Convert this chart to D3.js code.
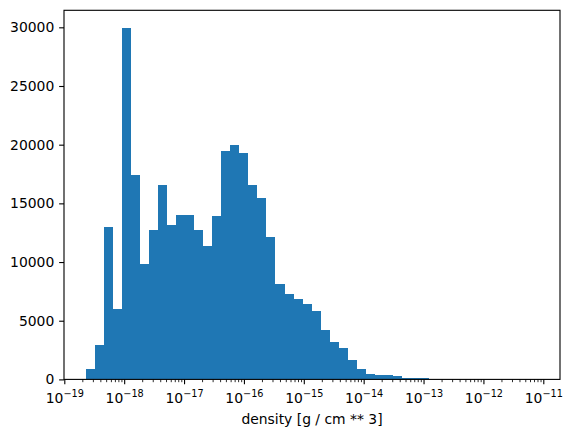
<!DOCTYPE html>
<html>
<head>
<meta charset="utf-8">
<script src="https://cdnjs.cloudflare.com/ajax/libs/d3/7.8.5/d3.min.js"></script>
<style>
  body { margin: 0; background: #fff; }
  text { font-family: "DejaVu Sans", sans-serif; }
</style>
</head>
<body>
<div id="chart"></div>
<script>
// log10 of the first and last bin edge (50 log-spaced bins)
var binLogMin = -18.6376,
    binLogMax = -11.1027;

// counts per bin
var counts = [850, 2900, 12970, 6000, 29950, 17400, 9800, 12700, 16600, 13150,
              14000, 14000, 12700, 11400, 13900, 19500, 20000, 19250, 16600, 15450,
              12100, 8100, 7300, 6850, 6400, 5800, 4200, 3150, 2700, 1650,
              850, 430, 340, 340, 260, 90, 85, 80, 75, 70,
              65, 60, 50, 8, 5, 3, 2, 1, 1, 1];

// axis limits (log10) and ticks
var xLimLog = [-19.005, -10.721];
var xTickExps = [-19, -18, -17, -16, -15, -14, -13, -12, -11];
var yTicks = [0, 5000, 10000, 15000, 20000, 25000, 30000];
var yMax = 31450;
var xLabel = "density [g / cm ** 3]";

(function(){
  var width = 572,
    height = 437;

  var left = 64, right = 560, top = 10.3, bottom = 379.4;
  var pt = 100 / 72;   // matplotlib points -> px

  var svg = d3.select("#chart")
    .append("svg")
    .attr("width", width)
    .attr("height", height);

  var x = d3.scaleLog()
    .domain([Math.pow(10, xLimLog[0]), Math.pow(10, xLimLog[1])])
    .range([left, right]);

  var y = d3.scaleLinear()
    .domain([0, yMax])
    .range([bottom, top]);

  // bin edges like np.logspace(binLogMin, binLogMax, 51)
  var n = counts.length;
  var edges = d3.range(n + 1).map(function(i){
    return Math.pow(10, binLogMin + i * (binLogMax - binLogMin) / n);
  });
  var bins = counts.map(function(c, i){
    return {x0: edges[i], x1: edges[i + 1], count: c};
  });

  // crisp edges so neighbouring bars meet without seams
  svg.append("g")
    .attr("shape-rendering", "crispEdges")
    .selectAll("rect")
    .data(bins)
    .enter().append("rect")
    .attr("x", function(d){ return x(d.x0); })
    .attr("width", function(d){ return x(d.x1) - x(d.x0); })
    .attr("y", function(d){ return y(d.count); })
    .attr("height", function(d){ return y(0) - y(d.count); })
    .attr("fill", "#1f77b4");

  // minor ticks 2..9 per decade
  var minors = [];
  for (var e = -20; e <= -10; e++) {
    for (var k = 2; k <= 9; k++) {
      var v = k * Math.pow(10, e);
      if (v >= x.domain()[0] && v <= x.domain()[1]) minors.push(v);
    }
  }

  var minorAxis = svg.append("g")
    .attr("transform", "translate(0," + bottom + ")")
    .call(d3.axisBottom(x).tickValues(minors).tickSize(2 * pt).tickFormat(""));
  minorAxis.select(".domain").remove();
  minorAxis.selectAll("line").attr("stroke", "#000").attr("stroke-width", 0.6 * pt);

  var xAxis = svg.append("g")
    .attr("transform", "translate(0," + bottom + ")")
    .call(d3.axisBottom(x)
      .tickValues(xTickExps.map(function(e){ return Math.pow(10, e); }))
      .tickSize(3.5 * pt)
      .tickFormat(""));
  xAxis.select(".domain").remove();
  xAxis.selectAll("line").attr("stroke", "#000").attr("stroke-width", 0.8 * pt);

  // mathtext style labels: 10 with a superscript exponent
  xAxis.selectAll(".tick text")
    .attr("y", 23.5)
    .attr("dy", null)
    .attr("fill", "#000")
    .attr("font-size", 13.9)
    .attr("font-family", "DejaVu Sans")
    .each(function(d){
      var t = d3.select(this);
      var e = Math.round(Math.log10(d));
      t.text(null);
      t.append("tspan").text("10");
      t.append("tspan")
        .attr("font-size", 9.7)
        .attr("dy", -5.5)
        .text("\u2212" + Math.abs(e));
    });

  var yAxis = svg.append("g")
    .attr("transform", "translate(" + left + ",0)")
    .call(d3.axisLeft(y)
      .tickValues(yTicks)
      .tickFormat(d3.format("d"))
      .tickSize(3.5 * pt)
      .tickPadding(3.5 * pt));
  yAxis.select(".domain").remove();
  yAxis.selectAll("line").attr("stroke", "#000").attr("stroke-width", 0.8 * pt);
  yAxis.selectAll("text")
    .attr("fill", "#000")
    .attr("font-size", 13.9)
    .attr("font-family", "DejaVu Sans");

  // frame
  svg.append("rect")
    .attr("x", left)
    .attr("y", top)
    .attr("width", right - left)
    .attr("height", bottom - top)
    .attr("fill", "none")
    .attr("stroke", "#000")
    .attr("stroke-width", 0.8 * pt);

  svg.append("text")
    .attr("x", (left + right) / 2)
    .attr("y", 424)
    .attr("text-anchor", "middle")
    .attr("font-size", 13.9)
    .attr("fill", "#000")
    .text(xLabel);

})();
</script>
</body>
</html>
